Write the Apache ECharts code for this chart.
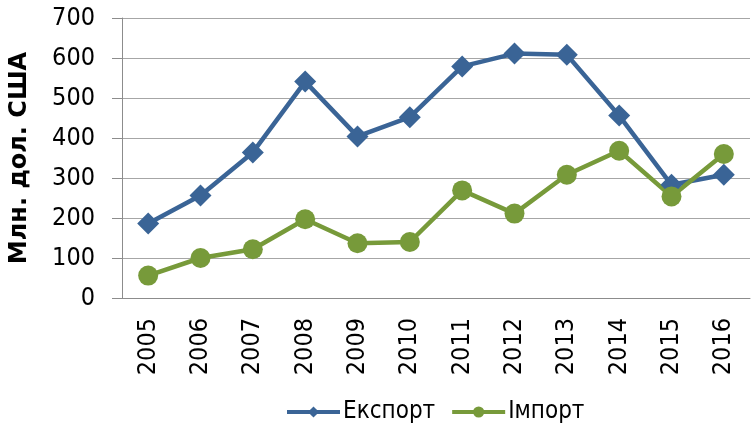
<!DOCTYPE html>
<html>
<head>
<meta charset="utf-8">
<script src="https://cdn.jsdelivr.net/npm/echarts@6/dist/echarts.min.js"></script>
<style>
  html, body { margin: 0; padding: 0; background: #fff; }
  #main { width: 751px; height: 433px; }
</style>
</head>
<body>
<div id="main"></div>
<script>
// роки
const years = ['2005', '2006', '2007', '2008', '2009', '2010', '2011', '2012', '2013', '2014', '2015', '2016']
// Експорт, млн. дол. США
const exportData = [186, 256, 364, 541, 404, 452, 579, 611, 608, 456, 283, 308]
// Імпорт, млн. дол. США
const importData = [56, 100, 122, 197, 137, 140, 269, 211, 308, 368, 254, 360]

const chart = echarts.init(document.getElementById('main'), null, { renderer: 'canvas' })
const font = '"DejaVu Sans Condensed", "Liberation Sans", sans-serif'
const blue = '#3A6496'
const green = '#779A3A'

const option = {
  animation: false,
  textStyle: { fontFamily: font },
  grid: { left: 118, right: 1, top: 18, bottom: 135 },
  legend: {
    bottom: 4,
    left: 280,
    itemWidth: 53,
    itemHeight: 14,
    itemGap: 15,
    lineStyle: { width: 4 },
    textStyle: { fontSize: 24, color: '#000', fontFamily: font, padding: [0, 0, 0, -2] },
    data: ['Експорт', 'Імпорт']
  },
  xAxis: {
    type: 'category',
    data: years,
    boundaryGap: true,
    axisLine: { lineStyle: { color: '#8c8c8c' } },
    axisTick: { length: 8, lineStyle: { color: '#8c8c8c' } },
    axisLabel: { rotate: 90, fontSize: 25, color: '#000', margin: 20 }
  },
  yAxis: {
    type: 'value',
    min: 0,
    max: 700,
    interval: 100,
    name: 'Млн. дол. США',
    nameLocation: 'middle',
    nameGap: 90,
    nameTextStyle: { fontSize: 24, fontWeight: 'bold', color: '#000', fontFamily: '"DejaVu Sans", sans-serif' },
    axisLine: { show: true, lineStyle: { color: '#8c8c8c' } },
    axisTick: { show: true, length: 10, lineStyle: { color: '#8c8c8c' } },
    axisLabel: { fontSize: 25, color: '#000', margin: 27 },
    splitLine: { lineStyle: { color: '#a6a6a6', width: 1 } }
  },
  series: [
    {
      name: 'Експорт',
      type: 'line',
      data: exportData,
      symbol: 'diamond',
      symbolSize: 22,
      lineStyle: { color: blue, width: 4.5 },
      itemStyle: { color: blue }
    },
    {
      name: 'Імпорт',
      type: 'line',
      data: importData,
      symbol: 'circle',
      symbolSize: 20,
      lineStyle: { color: green, width: 4.5 },
      itemStyle: { color: green }
    }
  ]
}
chart.setOption(option)
</script>
</body>
</html>
